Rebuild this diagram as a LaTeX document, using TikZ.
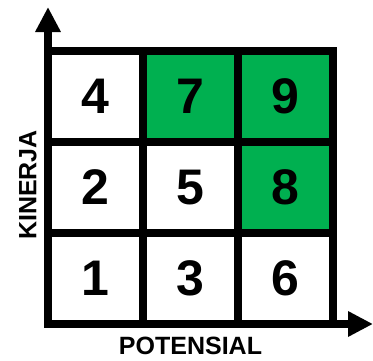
\documentclass[tikz,border=0pt]{standalone}
\usepackage{fontspec}
\setmainfont{Liberation Sans}
\usepackage{xcolor}
\usetikzlibrary{arrows.meta, positioning}
\definecolor{cellgreen}{RGB}{0,176,80}

\begin{document}
\begin{tikzpicture}[
    x=1pt, y=1pt,
    cell/.style={rectangle, draw, line width=8pt, minimum width=95pt, minimum height=91pt, inner sep=0pt, outer sep=0pt, font=\fontsize{50}{50}\selectfont\bfseries, fill=white},
    hot/.style={cell, fill=cellgreen},
    axis/.style={-{Triangle[length=25pt, width=24pt]}, line width=8pt},
    lbl/.style={font=\fontsize{25}{25}\selectfont\bfseries}
]
\useasboundingbox (0,0) rectangle (373,360);

% Bottom row
\node[cell] (n1) at (95.5, 81.5) {1};
\node[cell, right=0pt of n1] (n3) {3};
\node[cell, right=0pt of n3] (n6) {6};

% Middle row
\node[cell, above=0pt of n1] (n2) {2};
\node[cell, above=0pt of n3] (n5) {5};
\node[hot, above=0pt of n6] (n8) {8};

% Top row
\node[cell, above=0pt of n2] (n4) {4};
\node[hot, above=0pt of n5] (n7) {7};
\node[hot, above=0pt of n8] (n9) {9};

% Axes
\coordinate (ytip) at (48, 353);
\coordinate (xtip) at (373, 36);
\draw[axis] (n1.south west) -- (ytip);
\draw[axis] (n1.south west) -- (xtip);

% Axis labels
\node[lbl, rotate=90] (kinerja) at (28, 175) {KINERJA};
\node[lbl] (potensial) at (190.5, 14) {POTENSIAL};
\end{tikzpicture}
\end{document}
